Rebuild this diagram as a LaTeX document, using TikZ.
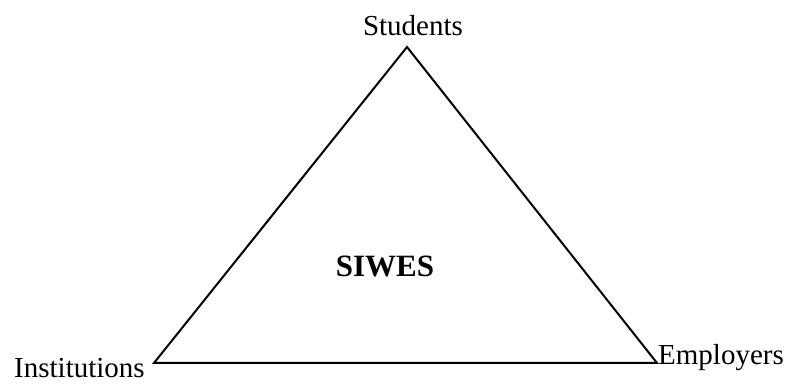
\documentclass[tikz,border=0pt]{standalone}
\usepackage{fontspec}
\setmainfont{Liberation Serif}
\usetikzlibrary{positioning}
\tikzset{
  corner/.style={font=\fontsize{29}{35}\selectfont,inner sep=0pt,anchor=base},
  hub/.style={font=\fontsize{31}{37}\selectfont\bfseries,inner sep=0pt,anchor=base},
  edge/.style={draw=black,line width=2pt,line join=miter},
}

\begin{document}
\begin{tikzpicture}[x=1pt,y=1pt]
\useasboundingbox (0,0) rectangle (786,385);
\coordinate (stu) at (407,338);
\coordinate (ins) at (154,22);
\coordinate (emp) at (657,22);
\draw[edge] (stu) -- (emp) -- (ins) -- cycle;
\node[corner] (lstu) at (413,349) {Students};
\node[corner,anchor=base west] (lins) at (14,7) {Institutions};
\node[corner,anchor=base west] (lemp) at (658,20) {Employers};
\node[hub] (siwes) at (385,108) {SIWES};
\end{tikzpicture}
\end{document}
